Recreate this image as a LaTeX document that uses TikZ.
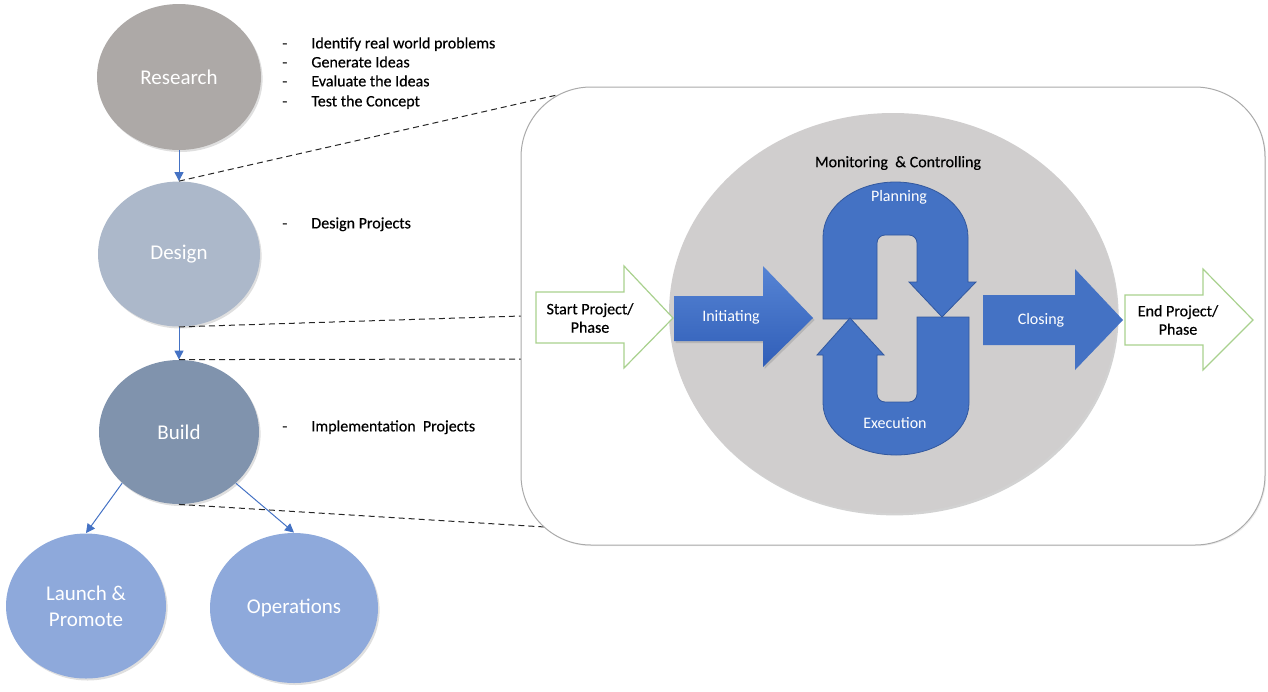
\documentclass[tikz,border=0pt]{standalone}
\usepackage{fontspec}
\setmainfont{Carlito}
\newfontfamily\heavyfont{Carlito}[FakeBold=0.35]
\usetikzlibrary{arrows.meta,shadows,shapes.geometric}
\definecolor{cResearch}{RGB}{173,169,167}
\definecolor{cDesign}{RGB}{172,184,202}
\definecolor{cBuild}{RGB}{128,147,173}
\definecolor{cLight}{RGB}{142,169,219}
\definecolor{cBlue}{RGB}{68,114,196}
\definecolor{cBlueEdge}{RGB}{50,88,158}
\definecolor{cBlueLight}{RGB}{86,132,212}
\definecolor{cBlueDark}{RGB}{48,94,184}
\definecolor{cEllipse}{RGB}{208,206,206}
\definecolor{cGreen}{RGB}{169,209,142}
\definecolor{cBoxEdge}{RGB}{170,170,170}
\begin{document}
\begin{tikzpicture}[x=0.5pt,y=-0.5pt,
  stage/.style={ellipse, inner sep=0pt, text=white, align=center,
    font=\fontsize{10.5}{13}\selectfont,
    drop shadow={shadow xshift=0.8pt,shadow yshift=-1pt,opacity=0.25}},
  flow/.style={draw=cBlue, line width=0.5pt, -{Triangle[width=4.5pt,length=4.5pt]}},
  dashlink/.style={draw=black!85, line width=0.5pt, dash pattern=on 3pt off 2pt},
  note/.style={anchor=west, inner sep=0pt, text height=6pt, text depth=1.6pt,
    font=\heavyfont\fontsize{8}{9.6}\selectfont},
  txt/.style={align=center, inner sep=0pt, font=\heavyfont\fontsize{8}{9.2}\selectfont},
  wtxt/.style={align=center, inner sep=0pt, text=white, font=\fontsize{8}{9.2}\selectfont},
  blueshape/.style={fill=cBlue, draw=cBlueEdge, line width=0.4pt},
  greenarrow/.style={fill=white, draw=cGreen, line width=0.6pt}
]
\useasboundingbox (0,0) rectangle (1268,691);

% stage circles
\node[stage, fill=cResearch, minimum width=82pt, minimum height=73pt] (research) at (179,77) {Research};
\node[stage, fill=cDesign, minimum width=81pt, minimum height=72.5pt] (design) at (179,254) {Design};
\node[stage, fill=cBuild, minimum width=80pt, minimum height=72pt] (build) at (179,432) {Build};
\node[stage, fill=cLight, minimum width=80pt, minimum height=72.5pt] (launch) at (86,606) {Launch \&\\Promote};
\node[stage, fill=cLight, minimum width=84pt, minimum height=75pt] (ops) at (294,608) {Operations};

% connectors
\draw[flow] (research.south) -- (design.north);
\draw[flow] (design.south) -- (build.north);
\draw[flow] (build.south west) -- (launch.north);
\draw[flow] (build.south east) -- (ops.north);

% notes
\node[note] (d1) at (282,44) {-};
\node[note] (n1) at (311,44) {Identify real world problems};
\node[note] (d2) at (282,63) {-};
\node[note] (n2) at (311,63) {Generate Ideas};
\node[note] (d3) at (282,82) {-};
\node[note] (n3) at (311,82) {Evaluate the Ideas};
\node[note] (d4) at (282,102) {-};
\node[note] (n4) at (311,102) {Test the Concept};
\node[note] (d5) at (282,224) {-};
\node[note] (n5) at (311,224) {Design Projects};
\node[note] (d6) at (282,427) {-};
\node[note] (n6) at (311,427) {Implementation~ Projects};

% zoom lines
\coordinate (z1) at (557,95);
\coordinate (z2) at (521,316);
\coordinate (z3) at (521,359);
\coordinate (z4) at (545,527);
\draw[dashlink] (design.north) -- (z1);
\draw[dashlink] (design.south) -- (z2);
\draw[dashlink] (build.north) -- (z3);
\draw[dashlink] (build.south) -- (z4);

% detail box
\draw[draw=cBoxEdge, fill=white, line width=0.5pt, rounded corners=35pt,
  drop shadow={shadow xshift=0.6pt,shadow yshift=-0.6pt,opacity=0.15}] (521,87) rectangle (1265,545);

% monitoring ellipse
\node[ellipse, fill=cEllipse, minimum width=224pt, minimum height=200pt, inner sep=0pt,
  drop shadow={shadow xshift=0.8pt,shadow yshift=-1.2pt,opacity=0.35}] (mc) at (893,313) {};
\node[txt] (mctext) at (898,163) {Monitoring~ \& Controlling};

% planning loop
\filldraw[blueshape] (823,319) -- (823,237)
  arc[start angle=180,end angle=0,x radius=36.25pt,y radius=27.5pt]
  -- (968,282) -- (976,282) -- (942,317) -- (909,282) -- (917,282)
  -- (917,243) arc[start angle=0,end angle=90,radius=4pt]
  -- (885,235) arc[start angle=90,end angle=180,radius=4pt]
  -- (877,319) -- cycle;
\node[wtxt] (planning) at (899,197) {Planning};

% execution loop
\filldraw[blueshape] (969,317) -- (969,403)
  arc[start angle=0,end angle=-180,x radius=36.5pt,y radius=26pt]
  -- (823,355) -- (817,355) -- (850,318) -- (884,355) -- (877,355)
  -- (877,394) arc[start angle=180,end angle=270,radius=4pt]
  -- (909,402) arc[start angle=270,end angle=360,radius=4pt]
  -- (917,317) -- cycle;
\node[wtxt] (execution) at (895,423) {Execution};

% start arrow
\filldraw[greenarrow] (536,292) -- (624,292) -- (624,266) -- (673,318) -- (624,368) -- (624,343) -- (536,343) -- cycle;
\node[txt] (start) at (590,318) {Start Project/\\Phase};

% initiating arrow
\shade[top color=cBlueLight, bottom color=cBlueDark,
  drop shadow={shadow xshift=0.8pt,shadow yshift=-1pt,opacity=0.3}]
  (674,296) -- (763,296) -- (763,266) -- (813,318) -- (763,367) -- (763,341) -- (674,341) -- cycle;
\node[wtxt] (initiating) at (731,317) {Initiating};

% closing arrow
\fill[cBlue] (983,295) -- (1075,295) -- (1075,269) -- (1123,320) -- (1075,370) -- (1075,345) -- (983,345) -- cycle;
\node[wtxt] (closing) at (1041,320) {Closing};

% end arrow
\filldraw[greenarrow] (1125,295) -- (1203,295) -- (1203,269) -- (1253,320) -- (1203,370) -- (1203,345) -- (1125,345) -- cycle;
\node[txt] (endp) at (1178,320) {End Project/\\Phase};
\end{tikzpicture}
\end{document}
